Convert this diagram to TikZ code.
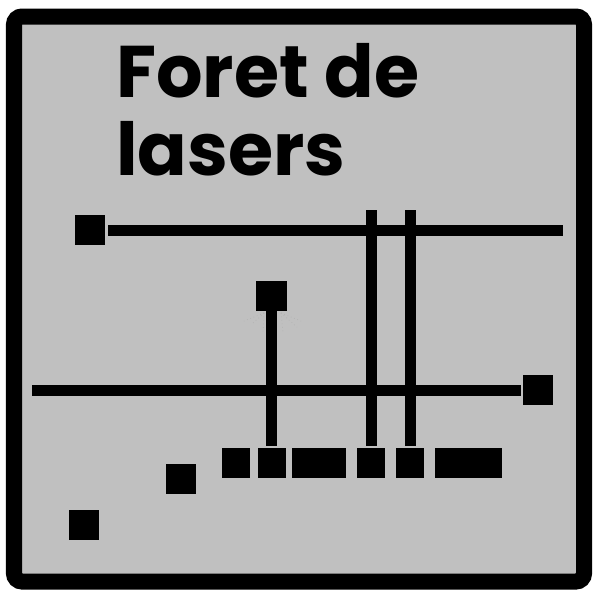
\documentclass[tikz,border=0pt]{standalone}
\usepackage{fontspec}
\setmainfont{Poppins}
\usetikzlibrary{positioning}
\definecolor{panelgray}{RGB}{192,192,192}
\tikzset{
  emitter/.style={fill=black, inner sep=0pt, minimum width=0.75cm, minimum height=0.75cm},
  target/.style={fill=black, inner sep=0pt, minimum height=0.75cm},
  beam/.style={line width=0.275cm, black},
  glint/.style={gray!60, dotted, line width=0.5pt},
  titletext/.style={anchor=base west, inner sep=0pt, font=\fontsize{52}{60}\selectfont\bfseries}
}
\begin{document}
\begin{tikzpicture}[x=0.025cm, y=-0.025cm]
  \useasboundingbox (0,0) rectangle (600,600);
  % frame
  \draw[line width=0.4cm, rounded corners=0.2cm, fill=panelgray] (14,16.5) rectangle (584,581.5);
  % title
  \node[titletext] (title1) at (116,97) {Foret de};
  \node[titletext] (title2) at (116,175) {lasers};
  % emitters
  \node[emitter] (srcA) at (90,230) {};
  \node[emitter] (srcB) at (271.5,296) {};
  \node[emitter] (srcC) at (538,390) {};
  \node[emitter] (lone1) at (181,479) {};
  \node[emitter] (lone2) at (84,525) {};
  % receiver row
  \foreach \n/\x/\w in {1/236/28, 2/271.5/28, 3/319/54, 4/371/28, 5/410/28, 6/468.5/67}
    \node[target, minimum width=\w*0.025cm] (rx\n) at (\x,463) {};
  % free beam ends
  \coordinate (endA) at (563,230);
  \coordinate (endC) at (32,390);
  \coordinate (topD) at (371,210);
  \coordinate (topE) at (410,210);
  % beams
  \draw[beam, shorten <=0.075cm] (srcA.east) -- (endA);
  \draw[beam, shorten >=0.05cm] (endC) -- (srcC.west);
  \draw[beam, shorten >=0.05cm] (srcB.south) -- (rx2.north);
  \draw[beam, shorten >=0.05cm] (topD) -- (rx4.north);
  \draw[beam, shorten >=0.05cm] (topE) -- (rx5.north);
  % glints
  \coordinate (gl) at (264,313);
  \coordinate (gr) at (281,313);
  \foreach \p in {(244,321), (252,324), (263,333)}
    \draw[glint] (gl) -- \p;
  \foreach \p in {(301,321), (297,327), (283,333)}
    \draw[glint] (gr) -- \p;
\end{tikzpicture}
\end{document}
